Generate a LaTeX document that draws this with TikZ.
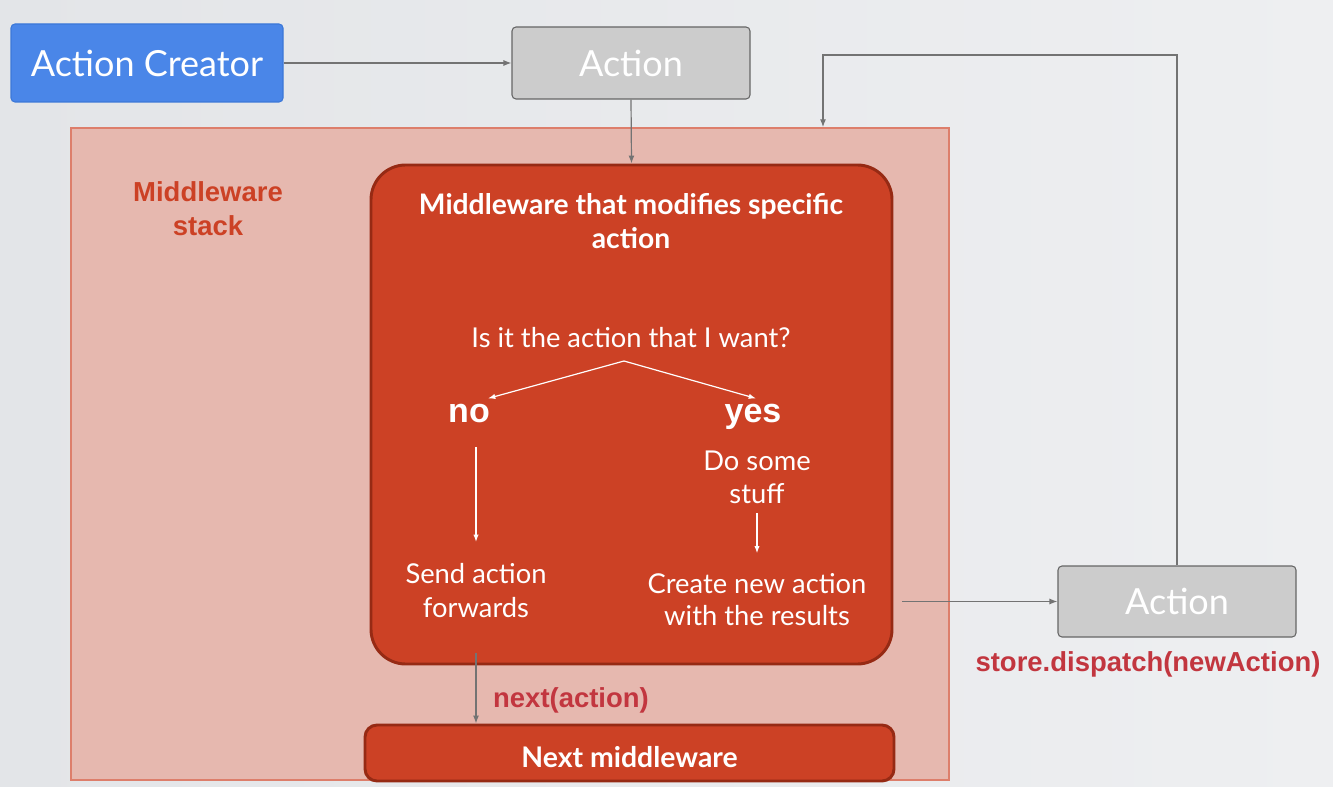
\documentclass[tikz,border=0pt]{standalone}
\usepackage{fontspec}
\setmainfont{Lato}
\newfontfamily\arialf{Liberation Sans}
\usetikzlibrary{arrows.meta,fit,calc}
\definecolor{bgL}{HTML}{E3E5E8}
\definecolor{bgR}{HTML}{EEEFF1}
\definecolor{blueF}{HTML}{4A86E8}
\definecolor{blueD}{HTML}{3C78D8}
\definecolor{grayF}{HTML}{CCCCCC}
\definecolor{grayD}{HTML}{666666}
\definecolor{stackF}{HTML}{E6B8AF}
\definecolor{stackD}{HTML}{DD7E6B}
\definecolor{mwF}{HTML}{CC4125}
\definecolor{mwD}{HTML}{962A14}
\definecolor{redT}{HTML}{CC4125}
\definecolor{crimT}{HTML}{C2363F}
\definecolor{lineC}{HTML}{737373}
\newcommand{\mlines}[1]{\begin{tabular}[t]{@{}c@{}}#1\end{tabular}}
\begin{document}
\begin{tikzpicture}[x=0.75pt,y=-0.75pt,
  box/.style={inner sep=0pt, rounded corners=3pt, line width=0.8pt},
  bluebox/.style={box, fill=blueF, draw=blueD, text=white, font=\fontsize{27}{30}\selectfont},
  graybox/.style={box, fill=grayF, draw=grayD, text=white, font=\fontsize{27}{30}\selectfont},
  stackbox/.style={inner sep=0pt, fill=stackF, draw=stackD, line width=1.1pt},
  mwbox/.style={inner sep=0pt, fill=mwF, draw=mwD, line width=2.2pt},
  conn/.style={draw=lineC, line width=0.9pt, -{Latex[length=6pt,width=4.5pt]}},
  wconn/.style={draw=white, line width=0.9pt, -{Latex[length=5.5pt,width=4pt]}},
  titlef/.style={inner sep=0pt, text=white, font=\bfseries\fontsize{21.2}{25}\selectfont},
  bodyf/.style={inner sep=0pt, text=white, font=\fontsize{20.5}{25}\selectfont},
  yesno/.style={inner sep=0pt, text=white, font=\arialf\bfseries\fontsize{25.5}{28}\selectfont},
  redlbl/.style={inner sep=0pt, font=\arialf\bfseries\fontsize{20.6}{25}\selectfont}
]
\useasboundingbox (0,0) rectangle (1333,787);
\shade[left color=bgL, right color=bgR] (0,0) rectangle (1333,787);

% boxes
\node[stackbox, fit={(71,128) (949,780)}] (stack) {};
\node[mwbox, rounded corners=26pt, fit={(371,165) (892,664)}] (mw) {};
\node[mwbox, rounded corners=9pt, fit={(365,725) (894,781)}] (nm) {};
\node[bluebox, minimum width=204pt, minimum height=58.5pt] (ac) at (147,63) {Action Creator};
\node[graybox, minimum width=178.5pt, minimum height=54pt] (act1) at (631,63) {Action};
\node[graybox, minimum width=178.5pt, minimum height=53.25pt] (act2) at (1177,601.5) {Action};

% texts
\node[redlbl, text=redT, anchor=base] (msl) at (208,202) {\fontsize{20.6}{25}\selectfont\mlines{Middleware\\stack}};
\node[titlef, anchor=base] (title) at (631,215) {\fontsize{21.2}{24.8}\selectfont\mlines{Middleware that modifies specific\\action}};
\node[bodyf, anchor=base] (q) at (631,348) {Is it the action that I want?};
\node[yesno, anchor=base] (no) at (469,422) {no};
\node[yesno, anchor=base] (yes) at (753,422) {yes};
\node[bodyf, anchor=base] (doit) at (757,470) {\fontsize{20.5}{24.8}\selectfont\mlines{Do some\\stuff}};
\node[bodyf, anchor=base] (send) at (476,583) {\fontsize{20.5}{25.5}\selectfont\mlines{Send action\\forwards}};
\node[bodyf, anchor=base] (create) at (757,593) {\fontsize{20.5}{24}\selectfont\mlines{Create new action\\with the results}};
\node[titlef, anchor=base, font=\bfseries\fontsize{21.3}{25}\selectfont] (nmt) at (629.5,767) {Next middleware};
\node[redlbl, text=crimT, anchor=base] (nxl) at (571,707) {next(action)};
\node[redlbl, text=crimT, anchor=base] (sd) at (1148,671) {store.dispatch(newAction)};

% coordinates
\coordinate (split) at (624,361);
\coordinate (outp) at (902,601.5);
\coordinate (ret) at (823,55);
\coordinate (nx) at (476,653);

% connectors
\draw[conn] (ac.east) -- (act1.west);
\draw[conn] (act1.south) -- (mw.north);
\draw[conn] (act2.north) |- (ret) -- (ret |- stack.north);
\draw[conn] (outp) -- (act2.west);
\draw[conn] (nx) -- (nx |- nm.north);
\draw[wconn] (split) -- ($(no.north)+(19,-5)$);
\draw[wconn] (split) -- ($(yes.north)+(3,-5)$);
\draw[wconn] ($(send.north)+(0,-112)$) -- ($(send.north)+(0,-17)$);
\draw[wconn] (doit.south) -- ($(create.north)+(0,-17)$);
\end{tikzpicture}
\end{document}
